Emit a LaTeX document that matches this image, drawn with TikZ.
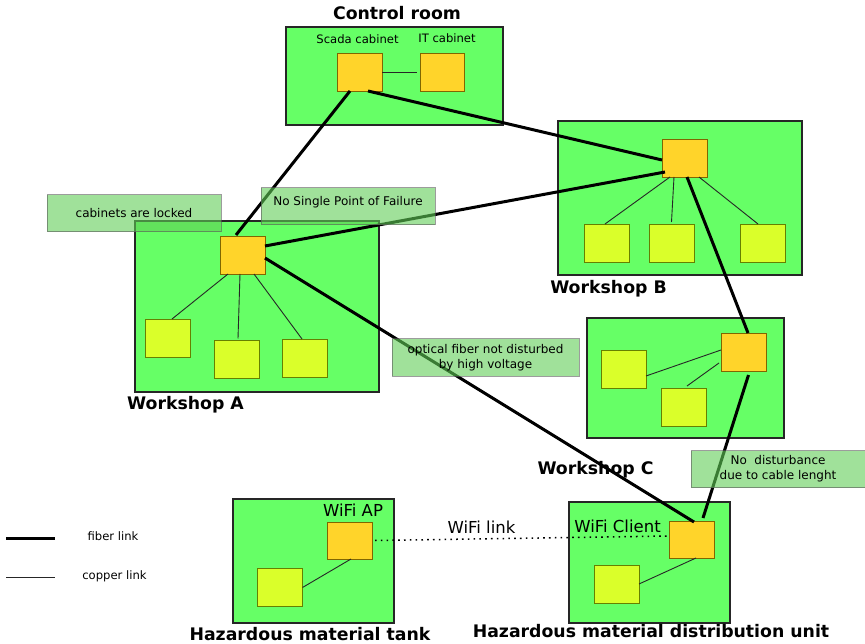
\documentclass[tikz,border=0pt]{standalone}
\usepackage{fontspec}
\setmainfont{DejaVu Sans}
\definecolor{roomgreen}{RGB}{102,255,102}
\definecolor{hubfill}{RGB}{255,212,42}
\definecolor{hubedge}{RGB}{128,102,0}
\definecolor{leaffill}{RGB}{218,255,42}
\definecolor{leafedge}{RGB}{102,128,0}
\definecolor{notefill}{RGB}{96,205,86}
\definecolor{noteedge}{RGB}{90,90,90}
\begin{document}
\begin{tikzpicture}[x=1pt,y=-1pt,
  room/.style={draw=black!85, line width=1.5pt, fill=roomgreen, inner sep=0pt, outer sep=0pt},
  hub/.style={draw=hubedge, line width=0.8pt, fill=hubfill, minimum width=45pt, minimum height=38pt, inner sep=0pt, outer sep=0pt},
  leaf/.style={draw=leafedge, line width=0.8pt, fill=leaffill, minimum width=45pt, minimum height=38pt, inner sep=0pt, outer sep=0pt},
  fiber/.style={line width=3pt, black},
  copper/.style={line width=0.9pt, black!85},
  wifi/.style={line width=1.5pt, black, dash pattern=on 1.6pt off 4.2pt},
  title/.style={font=\bfseries\fontsize{17.3}{20}\selectfont, inner sep=0pt},
  small/.style={font=\fontsize{11.6}{13}\selectfont, inner sep=0pt},
  wlabel/.style={font=\fontsize{16.5}{19}\selectfont, inner sep=0pt},
  note/.style={draw=noteedge, line width=1pt, fill=notefill, fill opacity=0.6, draw opacity=0.6, text opacity=1,
    minimum width=174pt, minimum height=37pt, inner sep=0pt, align=center,
    font=\fontsize{12}{15}\selectfont},
]
\useasboundingbox (0,0) rectangle (865,644);

% rooms
\node[room, minimum width=217pt, minimum height=98pt] (ctrl) at (394.5,76) {};
\node[room, minimum width=244pt, minimum height=154pt] (wsB) at (680,198) {};
\node[room, minimum width=244pt, minimum height=171pt] (wsA) at (257,306.5) {};
\node[room, minimum width=197pt, minimum height=120pt] (wsC) at (685.5,378) {};
\node[room, minimum width=161pt, minimum height=124pt] (tank) at (313.5,561) {};
\node[room, minimum width=161pt, minimum height=121pt] (dist) at (649.5,562.5) {};

% room titles
\node[title] (tctrl) at (397,13) {Control room};
\node[title] (tA) at (185.5,405) {Workshop A};
\node[title] (tB) at (608.5,289) {Workshop B};
\node[title] (tC) at (595.5,470) {Workshop C};
\node[title] (ttank) at (310,634) {Hazardous material tank};
\node[title] (tdist) at (651,631) {Hazardous material distribution unit};

% cabinets in the control room
\node[small] (lscada) at (357.5,39) {Scada cabinet};
\node[small] (lit) at (447,38) {IT cabinet};
\node[hub] (scada) at (359.5,72) {};
\node[hub, minimum width=44pt] (it) at (442,72) {};

% switches and devices
\node[hub] (hubB) at (684.5,158) {};
\node[leaf] (b1) at (606.5,243) {};
\node[leaf] (b2) at (671.5,243) {};
\node[leaf] (b3) at (762.5,243) {};

\node[hub] (hubA) at (242.5,255) {};
\node[leaf] (a1) at (167.5,338) {};
\node[leaf] (a2) at (236.5,359.5) {};
\node[leaf] (a3) at (304.5,358) {};

\node[hub] (hubC) at (743.5,352) {};
\node[leaf] (c1) at (623.5,369) {};
\node[leaf] (c2) at (684,407) {};

\node[hub, minimum height=37pt] (ap) at (349.5,540.5) {};
\node[leaf] (t1) at (280,587.5) {};
\node[hub, minimum height=37pt] (client) at (692,539.5) {};
\node[leaf] (d1) at (616.5,584) {};

\node[wlabel] (lap) at (353,510) {WiFi AP};
\node[wlabel] (lclient) at (617.5,526) {WiFi Client};
\node[wlabel] (lwifi) at (481.5,527) {WiFi link};

% copper links
\draw[copper] (scada.east) -- ([xshift=-3pt]it.west);
\draw[copper] ([xshift=-14.5pt]hubA.south) -- ([xshift=4.5pt]a1.north);
\draw[copper] ([xshift=-2.5pt]hubA.south) -- ([xshift=1.5pt,yshift=2pt]a2.north);
\draw[copper] ([xshift=11.5pt]hubA.south) -- ([xshift=-2.5pt]a3.north);
\draw[copper] ([xshift=-14.5pt]hubB.south) -- ([xshift=-1.5pt]b1.north);
\draw[copper] ([xshift=-10.5pt]hubB.south) -- ([yshift=2pt]b2.north);
\draw[copper] ([xshift=14.5pt]hubB.south) -- ([xshift=-4.5pt]b3.north);
\draw[copper] ([yshift=2pt]hubC.west) -- ([yshift=-7pt]c1.east);
\draw[copper] ([xshift=-2pt,yshift=-11pt]hubC.west) -- ([xshift=3pt,yshift=2pt]c2.north);
\draw[copper] ([xshift=1.5pt]ap.south) -- (t1.east);
\draw[copper] ([xshift=4pt]client.south) -- (d1.east);

% wireless link
\draw[wifi] ([xshift=3pt]ap.east) -- ([yshift=3.5pt]client.west);

% fiber links
\draw[fiber] ([xshift=-9.5pt]scada.south) -- ([xshift=-6.5pt,yshift=1pt]hubA.north);
\draw[fiber] ([xshift=8.5pt]scada.south) -- ([yshift=-2pt]hubB.west);
\draw[fiber] ([yshift=9pt]hubA.east) -- ([xshift=3pt,yshift=5pt]hubB.south west);
\draw[fiber] ([yshift=-3pt]hubA.east) -- ([xshift=2pt,yshift=-1pt]client.north);
\draw[fiber] ([xshift=2.5pt]hubB.south) -- ([xshift=4.5pt]hubC.north);
\draw[fiber] ([xshift=5pt,yshift=-4pt]hubC.south) -- ([xshift=11pt,yshift=3pt]client.north);

% notes
\node[note] (nlock) at (134,213.5) {cabinets are locked};
\node[note, label={[font=\fontsize{12}{15}\selectfont, inner sep=0pt, yshift=4.5pt]center:No Single Point of Failure}] (nspf) at (348,206.5) {};
\node[note, minimum width=187pt] (nvolt) at (485.5,357.5) {optical fiber not disturbed\\by high voltage};
\node[note] (nlen) at (778,469) {No\ \ disturbance\\due to cable lenght};

% legend
\coordinate (fib1) at (6,538);
\coordinate (fib2) at (55,538);
\coordinate (cop1) at (6,577);
\coordinate (cop2) at (55,577);
\draw[fiber] (fib1) -- (fib2);
\draw[copper] (cop1) -- (cop2);
\node[small] (lfib) at (113,536) {fiber link};
\node[small] (lcop) at (114.5,576) {copper link};
\end{tikzpicture}
\end{document}
